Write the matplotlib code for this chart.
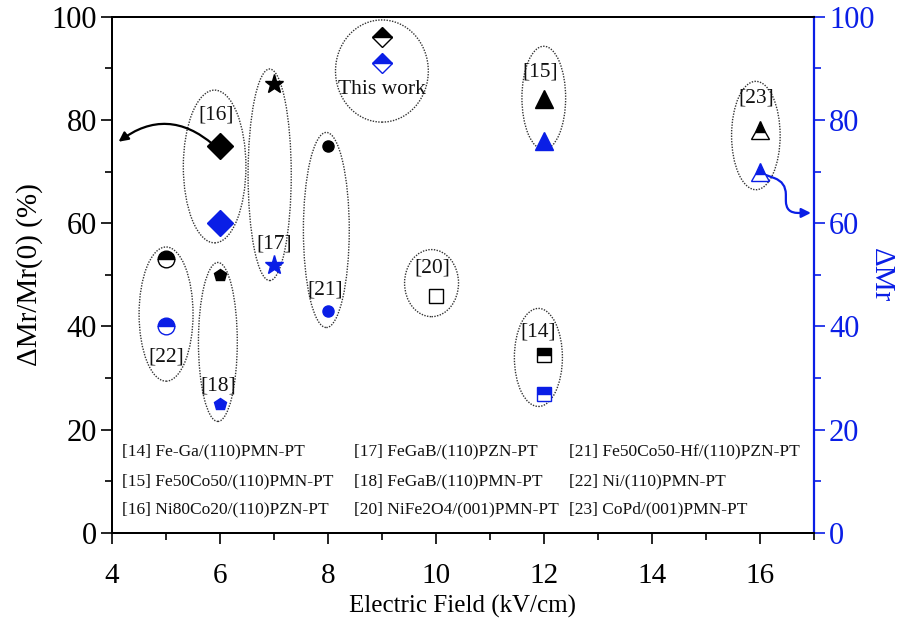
import matplotlib
matplotlib.use("Agg")
import matplotlib.pyplot as plt
from matplotlib.patches import Ellipse
from matplotlib.ticker import MultipleLocator

plt.rcParams['font.family'] = ['Liberation Serif', 'DejaVu Serif']
plt.rcParams['mathtext.fontset'] = 'custom'
plt.rcParams['mathtext.rm'] = 'Liberation Serif'

BLUE = '#0a1ee6'

# ---- data: (field, left-axis value, right-axis value, marker, fill) ----
fields = [5, 6, 6, 7, 8, 9, 10, 12, 12, 16]
ratio_vals = [53, 75, 50, 87, 75, 96, 46, 84, 34.5, 78]          # black, left axis (%)
dmr_vals = [40, 60, 25, 52, 43, 91, None, 76, 27, 70]            # blue, right axis
markers = ['o', 'D', 'p', '*', 'o', 'D', 's', '^', 's', '^']
fills = ['top', 'full', 'full', 'full', 'full', 'top', 'none', 'full', 'top', 'top']
sizes = [12, 13, 9, 14, 8, 10, 10, 13, 10, 13]

# group ellipses: centre x, centre y, width, height
ell_x = [5.0, 5.96, 5.9, 6.92, 7.97, 9.0, 9.92, 11.9, 12.0, 15.93]
ell_y = [42.4, 37.0, 71.0, 69.4, 58.7, 89.5, 48.4, 34.0, 84.3, 77.0]
ell_w = [1.0, 0.72, 1.16, 0.8, 0.85, 1.72, 1.0, 0.89, 0.81, 0.9]
ell_h = [26.0, 30.8, 29.6, 41.0, 37.8, 19.8, 13.0, 19.0, 20.0, 21.0]

# group labels
lab_text = ['[22]', '[18]', '[16]', '[17]', '[21]', 'This work', '[20]', '[14]', '[15]', '[23]']
lab_x = [5.0, 5.96, 5.92, 7.0, 7.95, 9.0, 9.93, 11.9, 11.93, 15.93]
lab_y = [34.0, 28.5, 81.0, 56.0, 47.0, 85.9, 51.3, 39.0, 89.3, 84.3]

# reference list
ref_col1 = ['[14] Fe-Ga/(110)PMN-PT', '[15] Fe50Co50/(110)PMN-PT', '[16] Ni80Co20/(110)PZN-PT']
ref_col2 = ['[17] FeGaB/(110)PZN-PT', '[18] FeGaB/(110)PMN-PT', '[20] NiFe2O4/(001)PMN-PT']
ref_col3 = ['[21] Fe50Co50-Hf/(110)PZN-PT', '[22] Ni/(110)PMN-PT', '[23] CoPd/(001)PMN-PT']
ref_x = [4.18, 8.49, 12.47]
ref_y = [15.7, 9.9, 4.5]

fig = plt.figure(figsize=(9.04, 6.24), dpi=100)
ax = fig.add_axes([0.124, 0.146, 0.776, 0.827])
ax2 = ax.twinx()

ax.set_xlim(4, 17)
ax.set_ylim(0, 100)
ax2.set_ylim(0, 100)

for i in range(len(fields)):
    ax.plot(fields[i], ratio_vals[i], linestyle='none', marker=markers[i],
            markersize=sizes[i], color='black', fillstyle=fills[i],
            markerfacecoloralt='white', markeredgecolor='black', markeredgewidth=1.0,
            zorder=5)
    if dmr_vals[i] is not None:
        ax2.plot(fields[i], dmr_vals[i], linestyle='none', marker=markers[i],
                 markersize=sizes[i], color=BLUE, fillstyle=fills[i],
                 markerfacecoloralt='white', markeredgecolor=BLUE, markeredgewidth=1.0,
                 zorder=5)

for cx, cy, w, h in zip(ell_x, ell_y, ell_w, ell_h):
    ax.add_patch(Ellipse((cx, cy), w, h, fill=False, edgecolor='#333333',
                         linestyle=(0, (1, 1)), linewidth=1.0, zorder=3))

for t, x, y in zip(lab_text, lab_x, lab_y):
    ax.text(x, y, t, ha='center', va='center', fontsize=15.5, color='#111111', zorder=6)

for col, x in zip([ref_col1, ref_col2, ref_col3], ref_x):
    for t, y in zip(col, ref_y):
        ax.text(x, y, t, ha='left', va='center', fontsize=12.5, color='#111111')

# arrows
ax.annotate('', xy=(4.12, 75.8), xytext=(5.88, 75.2),
            arrowprops=dict(arrowstyle='-|>', color='black', lw=1.6,
                            connectionstyle='arc3,rad=0.4', mutation_scale=14,
                            shrinkA=0, shrinkB=0), zorder=4)
ax2.annotate('', xy=(16.95, 62.0), xytext=(16.05, 69.6),
             arrowprops=dict(arrowstyle='-|>', color=BLUE, lw=1.6,
                             connectionstyle='arc,angleA=-20,angleB=180,armA=25,armB=25,rad=12',
                             mutation_scale=14, shrinkA=0, shrinkB=0), zorder=4)

# axes styling
ax.xaxis.set_major_locator(MultipleLocator(2))
ax.xaxis.set_minor_locator(MultipleLocator(1))
ax.yaxis.set_major_locator(MultipleLocator(20))
ax.yaxis.set_minor_locator(MultipleLocator(10))
ax2.yaxis.set_major_locator(MultipleLocator(20))
ax2.yaxis.set_minor_locator(MultipleLocator(10))

ax.tick_params(axis='both', which='major', direction='out', length=8, width=1.2)
ax.tick_params(axis='both', which='minor', direction='out', length=5, width=1.2)
ax.tick_params(axis='x', which='major', labelsize=21, pad=14)
ax.tick_params(axis='y', which='major', labelsize=22, pad=3)
ax.tick_params(axis='y', which='both', right=False)
ax2.tick_params(axis='y', which='major', direction='out', length=8, width=1.2,
                labelsize=22, colors=BLUE, pad=3)
ax2.tick_params(axis='y', which='minor', direction='out', length=5, width=1.2, colors=BLUE)

for s in ['left', 'bottom', 'top']:
    ax.spines[s].set_linewidth(1.4)
    ax2.spines[s].set_linewidth(1.4)
ax2.spines['right'].set_color(BLUE)
ax2.spines['right'].set_linewidth(1.6)
ax.spines['right'].set_visible(False)

ax.set_xlabel('Electric Field (kV/cm)', fontsize=18, labelpad=4)
ax.set_ylabel('ΔMr/Mr(0) (%)', fontsize=21, labelpad=6)
ax2.set_ylabel('ΔMr', fontsize=21, color=BLUE, rotation=270, labelpad=14)

fig.savefig('out.png', dpi=100)
